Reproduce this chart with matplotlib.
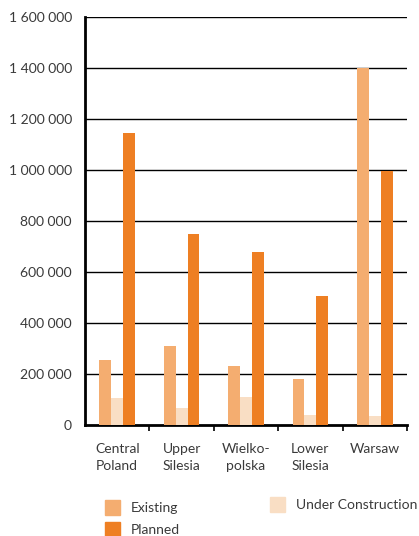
import matplotlib
matplotlib.use("Agg")
import matplotlib.pyplot as plt
import numpy as np
from matplotlib.patches import Patch

regions = ["Central\nPoland", "Upper\nSilesia", "Wielko-\npolska", "Lower\nSilesia", "Warsaw"]
existing = [255000, 310000, 232000, 180000, 1400000]
under_construction = [106000, 67000, 110000, 39000, 35000]
planned = [1147000, 750000, 677000, 505000, 995000]
yticks = [0, 200000, 400000, 600000, 800000, 1000000, 1200000, 1400000, 1600000]
ytick_labels = ["0", "200 000", "400 000", "600 000", "800 000",
                "1 000 000", "1 200 000", "1 400 000", "1 600 000"]

c_existing = "#F4AD70"
c_uc = "#F9DEC4"
c_planned = "#EE7F23"
text_color = "#3a3a3a"

plt.rcParams['font.family'] = ['Lato', 'DejaVu Sans']
fs = 10

fig = plt.figure(figsize=(4.19, 5.36), dpi=100)
ax = fig.add_axes([85 / 419, 1 - 425 / 536, (407 - 85) / 419, (425 - 17) / 536])

x = np.arange(len(regions))
w = 0.185
ax.bar(x - w, existing, w, color=c_existing, zorder=3)
ax.bar(x, under_construction, w, color=c_uc, zorder=3)
ax.bar(x + w, planned, w, color=c_planned, zorder=3)

ax.set_xlim(-0.5, len(regions) - 0.5)
ax.set_ylim(0, 1600000)

for v in yticks[1:]:
    ax.axhline(v, color="black", lw=1.0, zorder=2)

ax.set_yticks(yticks)
ax.set_yticklabels(ytick_labels, fontsize=fs, color=text_color)
ax.tick_params(axis="y", length=0, pad=9.5)

ax.set_xticks(x)
ax.set_xticklabels(regions, fontsize=fs, color=text_color, linespacing=1.5)
ax.tick_params(axis="x", which="major", length=0, pad=13)
ax.set_xticks(np.arange(0.5, len(regions)), minor=True)
ax.tick_params(axis="x", which="minor", length=4, width=1.2, direction="out", color="black")

for s in ["top", "right"]:
    ax.spines[s].set_visible(False)
ax.spines["left"].set_linewidth(2)
ax.spines["bottom"].set_linewidth(2)

leg_kw = dict(frameon=False, fontsize=fs, handlelength=1.1, handleheight=1.25,
              handletextpad=0.75, labelspacing=0.5, borderpad=0, borderaxespad=0)
leg1 = fig.legend(handles=[Patch(color=c_existing, label="Existing"),
                           Patch(color=c_planned, label="Planned")],
                  loc="upper left", bbox_to_anchor=(105 / 419, 1 - 500 / 536), **leg_kw)
leg2 = fig.legend(handles=[Patch(color=c_uc, label="Under Construction")],
                  loc="upper left", bbox_to_anchor=(270 / 419, 1 - 497 / 536), **leg_kw)
for lg in (leg1, leg2):
    for t in lg.get_texts():
        t.set_color(text_color)

fig.savefig("out.png", dpi=100)
